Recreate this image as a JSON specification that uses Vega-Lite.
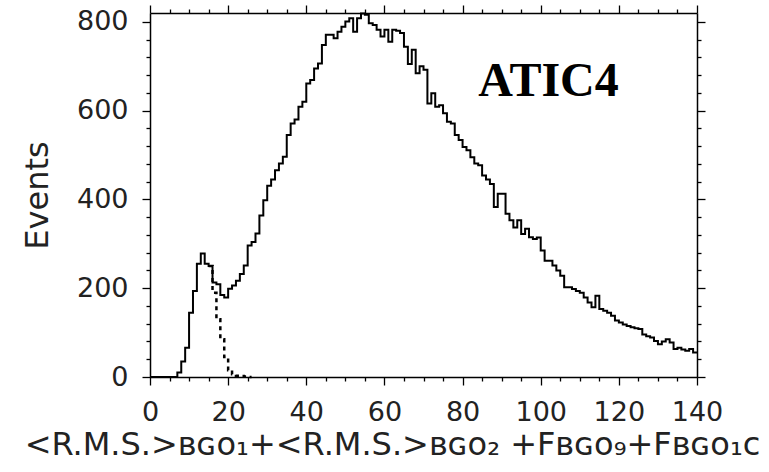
{
  "$schema": "https://vega.github.io/schema/vega-lite/v6.json",
  "width": 547,
  "height": 364,
  "autosize": "none",
  "padding": {"left": 150, "top": 13, "right": 72, "bottom": 95},
  "background": "white",
  "datasets": {
    "total": [
      {"x":0,"n":0},{"x":1,"n":0},{"x":2,"n":0},{"x":3,"n":0},{"x":4,"n":0},{"x":5,"n":0},{"x":6,"n":0},
      {"x":7,"n":10},{"x":8,"n":35},{"x":9,"n":66},{"x":10,"n":145},{"x":11,"n":194},{"x":12,"n":255},
      {"x":13,"n":278},{"x":14,"n":255},{"x":15,"n":250},{"x":16,"n":213},{"x":17,"n":209},{"x":18,"n":185},
      {"x":19,"n":179},{"x":20,"n":199},{"x":21,"n":206},{"x":22,"n":217},{"x":23,"n":232},{"x":24,"n":251},
      {"x":25,"n":296},{"x":26,"n":304},{"x":27,"n":323},{"x":28,"n":364},{"x":29,"n":398},{"x":30,"n":431},
      {"x":31,"n":445},{"x":32,"n":466},{"x":33,"n":481},{"x":34,"n":496},{"x":35,"n":545},{"x":36,"n":571},
      {"x":37,"n":580},{"x":38,"n":609},{"x":39,"n":620},{"x":40,"n":661},{"x":41,"n":669},{"x":42,"n":695},
      {"x":43,"n":706},{"x":44,"n":748},{"x":45,"n":771},{"x":46,"n":771},{"x":47,"n":763},{"x":48,"n":778},
      {"x":49,"n":789},{"x":50,"n":801},{"x":51,"n":808},{"x":52,"n":778},{"x":53,"n":808},{"x":54,"n":819},
      {"x":55,"n":816},{"x":56,"n":797},{"x":57,"n":793},{"x":58,"n":782},{"x":59,"n":767},{"x":60,"n":782},
      {"x":61,"n":755},{"x":62,"n":782},{"x":63,"n":780},{"x":64,"n":775},{"x":65,"n":744},{"x":66,"n":705},
      {"x":67,"n":737},{"x":68,"n":684},{"x":69,"n":700},{"x":70,"n":692},{"x":71,"n":616},{"x":72,"n":639},
      {"x":73,"n":609},{"x":74,"n":612},{"x":75,"n":594},{"x":76,"n":575},{"x":77,"n":571},{"x":78,"n":545},
      {"x":79,"n":534},{"x":80,"n":518},{"x":81,"n":511},{"x":82,"n":495},{"x":83,"n":481},{"x":84,"n":477},
      {"x":85,"n":454},{"x":86,"n":445},{"x":87,"n":435},{"x":88,"n":383},{"x":89,"n":413},{"x":90,"n":413},
      {"x":91,"n":368},{"x":92,"n":353},{"x":93,"n":337},{"x":94,"n":353},{"x":95,"n":322},{"x":96,"n":334},
      {"x":97,"n":315},{"x":98,"n":311},{"x":99,"n":314},{"x":100,"n":285},{"x":101,"n":262},{"x":102,"n":262},
      {"x":103,"n":251},{"x":104,"n":240},{"x":105,"n":228},{"x":106,"n":202},{"x":107,"n":202},{"x":108,"n":198},
      {"x":109,"n":194},{"x":110,"n":190},{"x":111,"n":179},{"x":112,"n":168},{"x":113,"n":157},{"x":114,"n":183},
      {"x":115,"n":153},{"x":116,"n":149},{"x":117,"n":145},{"x":118,"n":138},{"x":119,"n":127},{"x":120,"n":123},
      {"x":121,"n":118},{"x":122,"n":115},{"x":123,"n":112},{"x":124,"n":110},{"x":125,"n":108},{"x":126,"n":96},
      {"x":127,"n":92},{"x":128,"n":89},{"x":129,"n":81},{"x":130,"n":74},{"x":131,"n":80},{"x":132,"n":85},
      {"x":133,"n":78},{"x":134,"n":63},{"x":135,"n":66},{"x":136,"n":62},{"x":137,"n":59},{"x":138,"n":63},
      {"x":139,"n":55},{"x":140,"n":55}
    ],
    "fit": [
      {"x":15,"n":250},{"x":16,"n":190},{"x":17,"n":130},{"x":18,"n":85},{"x":19,"n":45},{"x":20,"n":15},
      {"x":21,"n":6},{"x":22,"n":3},{"x":23,"n":2},{"x":24,"n":1},{"x":25,"n":0},{"x":26,"n":0}
    ],
    "label": [{"x": 102, "y": 633, "t": "ATIC4"}]
  },
  "layer": [
    {
      "data": {"name": "total"},
      "mark": {"type": "line", "interpolate": "step-after", "color": "black", "strokeWidth": 2},
      "encoding": {
        "x": {
          "field": "x", "type": "quantitative",
          "scale": {"domain": [0, 140], "nice": false},
          "axis": {
            "orient": "bottom",
            "values": [0,5,10,15,20,25,30,35,40,45,50,55,60,65,70,75,80,85,90,95,100,105,110,115,120,125,130,135,140],
            "labelExpr": "datum.value % 20 === 0 ? datum.label : ''",
            "tickSize": {"condition": {"test": "datum.value % 20 === 0", "value": 8}, "value": 4},
            "labelPadding": 14,
            "labelFlush": false,
            "title": "<R.M.S.>ʙɢᴏ₁+<R.M.S.>ʙɢᴏ₂ +Fʙɢᴏ₉+Fʙɢᴏ₁ᴄ",
            "titleFontSize": 32,
            "titlePadding": 4,
            "titleX": 242
          }
        },
        "y": {
          "field": "n", "type": "quantitative",
          "scale": {"domain": [0, 820], "nice": false},
          "axis": {
            "orient": "left",
            "values": [0,40,80,120,160,200,240,280,320,360,400,440,480,520,560,600,640,680,720,760,800],
            "labelExpr": "datum.value % 200 === 0 ? datum.label : ''",
            "tickSize": {"condition": {"test": "datum.value % 200 === 0", "value": 8}, "value": 4},
            "labelPadding": 14,
            "title": "Events",
            "titleFontSize": 32,
            "titlePadding": 22
          }
        }
      }
    },
    {
      "data": {"name": "fit"},
      "mark": {"type": "line", "interpolate": "step-after", "color": "black", "strokeWidth": 2.5, "strokeDash": [4, 4]},
      "encoding": {
        "x": {
          "field": "x", "type": "quantitative",
          "scale": {"domain": [0, 140], "nice": false},
          "axis": {
            "orient": "top",
            "values": [0,5,10,15,20,25,30,35,40,45,50,55,60,65,70,75,80,85,90,95,100,105,110,115,120,125,130,135,140],
            "labels": false,
            "tickSize": {"condition": {"test": "datum.value % 20 === 0", "value": 8}, "value": 4},
            "title": null
          }
        },
        "y": {
          "field": "n", "type": "quantitative",
          "scale": {"domain": [0, 820], "nice": false},
          "axis": {
            "orient": "right",
            "values": [0,40,80,120,160,200,240,280,320,360,400,440,480,520,560,600,640,680,720,760,800],
            "labels": false,
            "tickSize": {"condition": {"test": "datum.value % 200 === 0", "value": 8}, "value": 4},
            "title": null
          }
        }
      }
    },
    {
      "data": {"name": "label"},
      "mark": {"type": "text", "font": "Liberation Serif", "fontWeight": "bold", "fontSize": 48, "align": "center", "baseline": "alphabetic", "color": "black"},
      "encoding": {
        "x": {"field": "x", "type": "quantitative", "scale": {"domain": [0, 140], "nice": false}, "axis": null},
        "y": {"field": "y", "type": "quantitative", "scale": {"domain": [0, 820], "nice": false}, "axis": null},
        "text": {"field": "t"}
      }
    }
  ],
  "resolve": {"axis": {"x": "independent", "y": "independent"}},
  "config": {
    "view": {"stroke": null, "fill": null},
    "axis": {
      "grid": false,
      "domainColor": "black",
      "domainWidth": 1.5,
      "tickColor": "black",
      "tickWidth": 1.3,
      "labelFont": "DejaVu Sans",
      "labelFontSize": 27,
      "labelColor": "#222",
      "labelOverlap": false,
      "titleFont": "DejaVu Sans",
      "titleFontWeight": "normal",
      "titleColor": "#222"
    }
  }
}
